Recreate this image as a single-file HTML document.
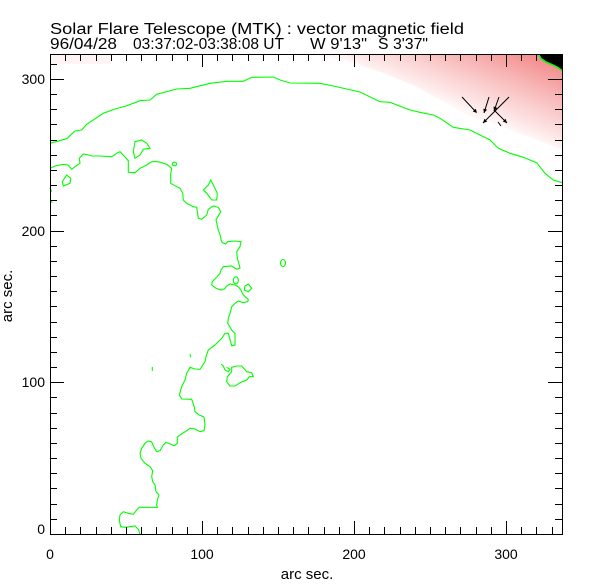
<!DOCTYPE html>
<html>
<head>
<meta charset="utf-8">
<style>
html,body{margin:0;padding:0;background:#fff;}
svg{display:block;}
text{font-family:"Liberation Sans",sans-serif;fill:#000;}
</style>
</head>
<body>
<svg width="612" height="585" viewBox="0 0 612 585" xmlns="http://www.w3.org/2000/svg">
<defs>
<linearGradient id="pk" gradientUnits="userSpaceOnUse" x1="528" y1="136" x2="562" y2="54">
<stop offset="0" stop-color="#fff6f6"/>
<stop offset="0.12" stop-color="#fde6e6"/>
<stop offset="0.3" stop-color="#fbd2d2"/>
<stop offset="0.55" stop-color="#f8b4b4"/>
<stop offset="0.8" stop-color="#f49494"/>
<stop offset="1" stop-color="#f07a7a"/>
</linearGradient>
</defs>
<rect x="0" y="0" width="612" height="585" fill="#fff"/>

<!-- title -->
<text x="50" y="34" font-size="15.5" textLength="414" lengthAdjust="spacingAndGlyphs">Solar Flare Telescope (MTK) : vector magnetic field</text>
<text x="50" y="49" font-size="15.5" textLength="67" lengthAdjust="spacingAndGlyphs">96/04/28</text>
<text x="133" y="49" font-size="15.5" textLength="151" lengthAdjust="spacingAndGlyphs">03:37:02-03:38:08 UT</text>
<text x="310" y="49" font-size="15.5" textLength="57" lengthAdjust="spacingAndGlyphs">W 9'13"</text>
<text x="378" y="49" font-size="15.5" textLength="50" lengthAdjust="spacingAndGlyphs">S 3'37"</text>

<!-- pink field region -->
<polygon points="320,55 562,55 562,150 540,141 520,134 500,126 470,116 440,100 413,85 380,72 350,62" fill="url(#pk)"/>
<rect x="51" y="55" width="60" height="9" fill="#fdecec" opacity="0.6"/>

<!-- black corner -->
<polygon points="538,54 562.5,54 562.5,71 558,67.5 552,64.5 546,62 541,58.5" fill="#000"/>
<polyline points="539,55 541,58.5 546,62 552,64.5 558,67.5 562,70.5" fill="none" stroke="#00ff00" stroke-width="1.5"/>

<!-- green contours -->
<g fill="none" stroke="#00ff00" stroke-width="1.1">
<path d="M50,143.3 L66.7,138.7 L75,131 L81.7,130 L86.7,124.3 L103.3,113.3 L115,109 L126,106 L140,100.7 L150,100 L156.7,94.3 L176.7,89 L190,88.3 L210,83.3 L226.7,81.3 L243.3,81.3 L251.7,77.3 L273.3,77 L280,80 L290,83 L320,83.3 L333.3,86 L360,92 L380,101.7 L390,102.3 L410,110 L420,112.3 L433.3,115 L440,118.3 L453.3,127.3 L470,130 L480,135 L490,140 L498.3,148.3 L510,153.3 L523.3,157.3 L536.7,162.7 L545,173.3 L553.3,180 L562,182.7"/>
<path d="M50,168.3 L55,166 L63,164.3 L68,165 L71.7,169.3 L75,166.7 L80,163.3 L79.3,158.3 L83.3,154 L88.3,155 L91.7,156 L100,156 L111.7,156.7 L116.7,153.3 L120,151.7 L123.3,155 L128.3,160.7 L128.3,172.3 L135,172.7 L140,168.3 L146.7,165 L151.7,161.7 L158.3,161.7 L166.7,164.3 L171.7,168.3 L170.7,173.3 L170.7,183.3 L175,185.7 L180,188.3 L182.7,193.3 L183.3,200 L186.7,203.3 L193.3,206.7 L196.7,207.3 L198.3,218.3 L201.7,219.3 L206.7,215 L208.3,209.3 L213.3,206 L218.3,207.3 L220.7,211.7 L216,220 L218.3,230 L220.7,236.7 L221,240 L222.3,242.7 L225.7,244 L227.7,241.7 L235,241 L241,241.7 L240,246.7 L236.7,251.7 L237.3,258.3 L239,264 L240,268 L236.7,269.3 L231.7,266 L223.3,266.7 L221,270 L220,273.3 L215.7,278.3 L212.3,281.7 L211.7,285 L216,288.3 L221,290 L224.3,289 L226.7,286 L230,284 L235,285 L238.3,286.7 L241,290 L242.3,293.3 L245,296.7 L248.3,299.3 L247.7,301.7 L243.3,302.7 L238.3,301 L235,303.3 L231.7,306.7 L230,313.3 L228.3,318.3 L227.7,323.3 L231.7,330 L235,333.3 L235,345 L231.7,345.7 L228.3,333.3 L225,333.3 L221.7,338.3 L215,345 L208.3,350 L206,356.7 L205,361.7 L200,369.3 L195,369 L190,367.3 L186.7,373.3 L185,380 L181.7,386.7 L179.3,395 L181.7,399 L191.7,399.3 L194.3,406.7 L195,411.7 L199.3,415 L204,417 L205,425 L204,430.7 L200,431.7 L195,429 L190,428.3 L186.7,430.7 L180,435 L177.3,437.3 L177.3,443.3 L174.3,445.7 L168.3,443.3 L166,442.3 L163.3,445 L160,450.7 L156.7,451.7 L154,447.3 L151.7,442 L148.3,441 L145,443.3 L141.7,448.3 L140,453.3 L141,458.3 L145,463.3 L150,466.7 L152.7,470.7 L151.7,476.7 L152.7,481.7 L155,485 L156,491.7 L159,495 L157.3,500 L156.7,505 L157.3,507.3 L151.7,507.3 L145,507.3 L139.3,507.3 L136.7,510 L133.3,514.3 L128.3,513.3 L123.3,511.7 L120,515 L119.3,520 L120.7,526.7 L125,527.3 L130,526.7 L135,526 L138.3,529.3 L140,534"/>
<path d="M135,141.7 L141.7,140 L146.7,143.3 L150,148.3 L143.3,149.3 L140,155 L135,158.3 L133.3,151.7 Z"/>
<path d="M66.7,175 L70.7,178.3 L70,183.3 L63.3,186 L62.3,181.7 Z"/>
<ellipse cx="174.5" cy="164" rx="2.2" ry="1.8"/>
<path d="M210.7,180 L213.3,185 L217.3,193.3 L216.7,200 L211.7,200 L206.7,193.3 L203.3,190 L208.3,185 Z"/>
<ellipse cx="283" cy="263" rx="2.5" ry="3.5"/>
<ellipse cx="235.8" cy="280.3" rx="2.5" ry="3.6"/>
<path d="M245,286 L248.3,284 L251.7,288.3 L248.3,291.7 L244.3,290 Z"/>
<path d="M190,354 L190.7,357.3"/>
<path d="M152.3,367 L152.3,371"/>
<path d="M221,364 L223.3,366 L225,370 L228.3,371.7 L230,369.3 L226.7,367.3"/>
<path d="M231.7,367.3 L236.7,366 L241.7,366 L246.7,371.7 L251.7,372.7 L253.3,376.7 L249.3,376.7 L246.7,380 L240,382.7 L235,386 L230,386 L226.7,381.7 L227.3,376.7 L231.7,371.7 Z"/>
<path d="M50,188 L51.7,191.7"/>
<path d="M50,200 L52.3,202.7"/>
</g>

<!-- vectors -->
<g stroke="#000" stroke-width="1" fill="none">
<line x1="462" y1="97" x2="476" y2="112"/>
<line x1="489" y1="97" x2="484" y2="113"/>
<line x1="499" y1="97" x2="494" y2="111"/>
<line x1="509" y1="97" x2="483" y2="123"/>
<line x1="494" y1="110" x2="507" y2="123"/>
<line x1="498" y1="122" x2="501" y2="126"/>
</g>
<g fill="#000">
<polygon points="477,113 472.8,111.5 475.8,108.7"/>
<polygon points="484,113 483.3,108.6 487.1,109.8"/>
<polygon points="494,111 493.5,106.5 497.3,107.9"/>
<polygon points="483,123 487.2,121.6 484.4,118.8"/>
<polygon points="507,123 502.8,121.6 505.6,118.8"/>
</g>

<!-- axes box -->
<rect x="50.5" y="54.5" width="512" height="480" fill="none" stroke="#000" stroke-width="1"/>

<!-- ticks -->
<g stroke="#000" stroke-width="1" fill="none">
<path d="M50.5,534V521 M65.5,534V527 M80.5,534V527 M96.5,534V527 M111.5,534V527 M126.5,534V527 M141.5,534V527 M156.5,534V527 M172.5,534V527 M187.5,534V527 M202.5,534V521 M217.5,534V527 M232.5,534V527 M248.5,534V527 M263.5,534V527 M278.5,534V527 M293.5,534V527 M308.5,534V527 M324.5,534V527 M339.5,534V527 M354.5,534V521 M369.5,534V527 M384.5,534V527 M400.5,534V527 M415.5,534V527 M430.5,534V527 M445.5,534V527 M460.5,534V527 M476.5,534V527 M491.5,534V527 M506.5,534V521 M521.5,534V527 M536.5,534V527 M552.5,534V527"/>
<path d="M50.5,54V67 M65.5,54V61 M80.5,54V61 M96.5,54V61 M111.5,54V61 M126.5,54V61 M141.5,54V61 M156.5,54V61 M172.5,54V61 M187.5,54V61 M202.5,54V67 M217.5,54V61 M232.5,54V61 M248.5,54V61 M263.5,54V61 M278.5,54V61 M293.5,54V61 M308.5,54V61 M324.5,54V61 M339.5,54V61 M354.5,54V67 M369.5,54V61 M384.5,54V61 M400.5,54V61 M415.5,54V61 M430.5,54V61 M445.5,54V61 M460.5,54V61 M476.5,54V61 M491.5,54V61 M506.5,54V67 M521.5,54V61 M536.5,54V61 M552.5,54V61"/>
<path d="M50,534.5H64 M50,519.5H57 M50,504.5H57 M50,488.5H57 M50,473.5H57 M50,458.5H57 M50,443.5H57 M50,428.5H57 M50,413.5H57 M50,397.5H57 M50,382.5H64 M50,367.5H57 M50,352.5H57 M50,337.5H57 M50,322.5H57 M50,306.5H57 M50,291.5H57 M50,276.5H57 M50,261.5H57 M50,246.5H57 M50,231.5H64 M50,215.5H57 M50,200.5H57 M50,185.5H57 M50,170.5H57 M50,155.5H57 M50,140.5H57 M50,124.5H57 M50,109.5H57 M50,94.5H57 M50,79.5H64 M50,64.5H57"/>
<path d="M562,534.5H548 M562,519.5H555 M562,504.5H555 M562,488.5H555 M562,473.5H555 M562,458.5H555 M562,443.5H555 M562,428.5H555 M562,413.5H555 M562,397.5H555 M562,382.5H548 M562,367.5H555 M562,352.5H555 M562,337.5H555 M562,322.5H555 M562,306.5H555 M562,291.5H555 M562,276.5H555 M562,261.5H555 M562,246.5H555 M562,231.5H548 M562,215.5H555 M562,200.5H555 M562,185.5H555 M562,170.5H555 M562,155.5H555 M562,140.5H555 M562,124.5H555 M562,109.5H555 M562,94.5H555 M562,79.5H548 M562,64.5H555"/>
</g>

<!-- tick labels -->
<g font-size="14">
<text x="45" y="534" text-anchor="end">0</text>
<text x="45" y="387" text-anchor="end">100</text>
<text x="45" y="236" text-anchor="end">200</text>
<text x="45" y="84" text-anchor="end">300</text>
<text x="50" y="559" text-anchor="middle">0</text>
<text x="202" y="559" text-anchor="middle">100</text>
<text x="354" y="559" text-anchor="middle">200</text>
<text x="506" y="559" text-anchor="middle">300</text>
</g>

<!-- axis titles -->
<text x="307" y="579" font-size="15" text-anchor="middle">arc sec.</text>
<text x="0" y="0" font-size="15" text-anchor="middle" transform="translate(12,296) rotate(-90)">arc sec.</text>
</svg>
</body>
</html>
